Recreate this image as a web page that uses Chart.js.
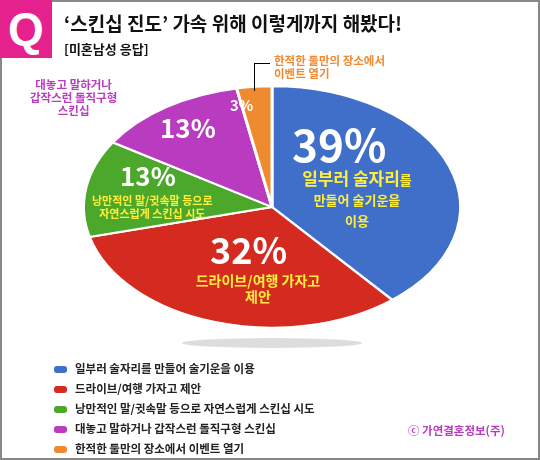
<!DOCTYPE html><html><head><meta charset="utf-8">
<script src="https://cdn.jsdelivr.net/npm/chart.js@4"></script>
<style>
body{margin:0;width:540px;height:460px;overflow:hidden;font-family:"Noto Sans CJK KR",sans-serif;background:#fff}
#frame{position:absolute;left:0;top:0;width:536px;height:456px;border:2px solid #888}
.a{position:absolute;font-weight:bold;white-space:nowrap;line-height:1.15}
canvas{position:absolute;left:0;top:0}
.lg{position:absolute;left:54px;font-size:11.5px;font-weight:bold;color:#222}
.lg i{display:inline-block;width:13px;height:7px;border-radius:3px;margin-right:8px;vertical-align:middle}
</style></head><body>
<div id="frame"></div>
<canvas id="c" width="540" height="460"></canvas>
<div class="a" style="left:0;top:0;width:52px;height:58px;background:#e4218c;color:#fff;font-size:46px;text-align:center;line-height:58px;font-family:Arial">Q</div>
<div class="a" style="left:64px;top:12px;font-size:19px;color:#111">‘스킨십 진도’ 가속 위해 이렇게까지 해봤다!</div>
<div class="a" style="left:64px;top:42px;font-size:13px;color:#111">[미혼남성 응답]</div>
<div style="position:absolute;left:254px;top:63px;width:1px;height:28px;background:#000"></div>
<div style="position:absolute;left:254px;top:63px;width:16px;height:1px;background:#000"></div>
<div class="a" style="left:326px;top:53px;font-size:11.5px;color:#f08a30;transform:translateX(-50%)"></div>
<div class="a" style="left:274px;top:54px;font-size:11.5px;color:#f08a30">한적한 둘만의 장소에서<br>이벤트 열기</div>
<div class="a" style="left:30px;top:78px;font-size:11.5px;color:#b93cc0;text-align:center">대놓고 말하거나<br>갑작스런 돌직구형<br>스킨십</div>
<div class="a" style="left:230px;top:96px;font-size:15px;color:#fff">3%</div>
<div class="a" style="left:160px;top:112px;font-size:26px;color:#fff">13%</div>
<div class="a" style="left:120px;top:160px;font-size:26px;color:#fff">13%</div>
<div class="a" style="left:92px;top:194px;font-size:11px;color:#ffef3a;text-align:center">낭만적인 말/귓속말 등으로<br>자연스럽게 스킨십 시도</div>
<div class="a" style="left:292px;top:118px;font-size:44px;color:#fff">39%</div>
<div class="a" style="left:282px;top:168px;font-size:17px;color:#ffef3a;text-align:center;width:150px">일부러 술자리<span style="font-size:13px">를</span><br><span style="font-size:13px;line-height:1.5">만들어 술기운을<br>이용</span></div>
<div class="a" style="left:210px;top:228px;font-size:36px;color:#fff">32%</div>
<div class="a" style="left:178px;top:272px;font-size:14px;color:#ffef3a;text-align:center;width:160px">드라이브/여행 가자고<br>제안</div>
<div class="lg" style="top:360px"><i style="background:#3f6fc8"></i>일부러 술자리를 만들어 술기운을 이용</div>
<div class="lg" style="top:380px"><i style="background:#d42a20"></i>드라이브/여행 가자고 제안</div>
<div class="lg" style="top:400px"><i style="background:#4ca82a"></i>낭만적인 말/귓속말 등으로 자연스럽게 스킨십 시도</div>
<div class="lg" style="top:420px"><i style="background:#b93cc0"></i>대놓고 말하거나 갑작스런 돌직구형 스킨십</div>
<div class="lg" style="top:440px"><i style="background:#f08a30"></i>한적한 둘만의 장소에서 이벤트 열기</div>
<div class="a" style="left:408px;top:424px;font-size:11.5px;color:#b93cc0">ⓒ 가연결혼정보(주)</div>
<script>
const categories=["일부러 술자리를 만들어 술기운을 이용","드라이브/여행 가자고 제안","낭만적인 말/귓속말 등으로 자연스럽게 스킨십 시도","대놓고 말하거나 갑작스런 돌직구형 스킨십","한적한 둘만의 장소에서 이벤트 열기"];
const values=[39,32,13,13,3];
const colors=["#3f6fc8","#d42a20","#4ca82a","#b93cc0","#f08a30"];
const S=0.64,TCY=207;
const squash={id:'squash',
beforeDatasetsDraw(ch){const c=ch.ctx,a=ch.chartArea,cy=(a.top+a.bottom)/2;c.save();
c.fillStyle='#ddd';c.beginPath();c.ellipse(272,343,90,5,0,0,Math.PI*2);c.fill();
c.translate(0,TCY-cy*S);c.scale(1,S);},
afterDatasetsDraw(ch){ch.ctx.restore();}};
new Chart(document.getElementById('c'),{type:'pie',
data:{labels:categories,datasets:[{data:values,backgroundColor:colors,borderColor:'#fff',borderWidth:3}]},
options:{responsive:false,animation:false,layout:{padding:{left:82,right:78,top:40,bottom:40}},
plugins:{legend:{display:false},tooltip:{enabled:false}}},plugins:[squash]});
</script></body></html>
